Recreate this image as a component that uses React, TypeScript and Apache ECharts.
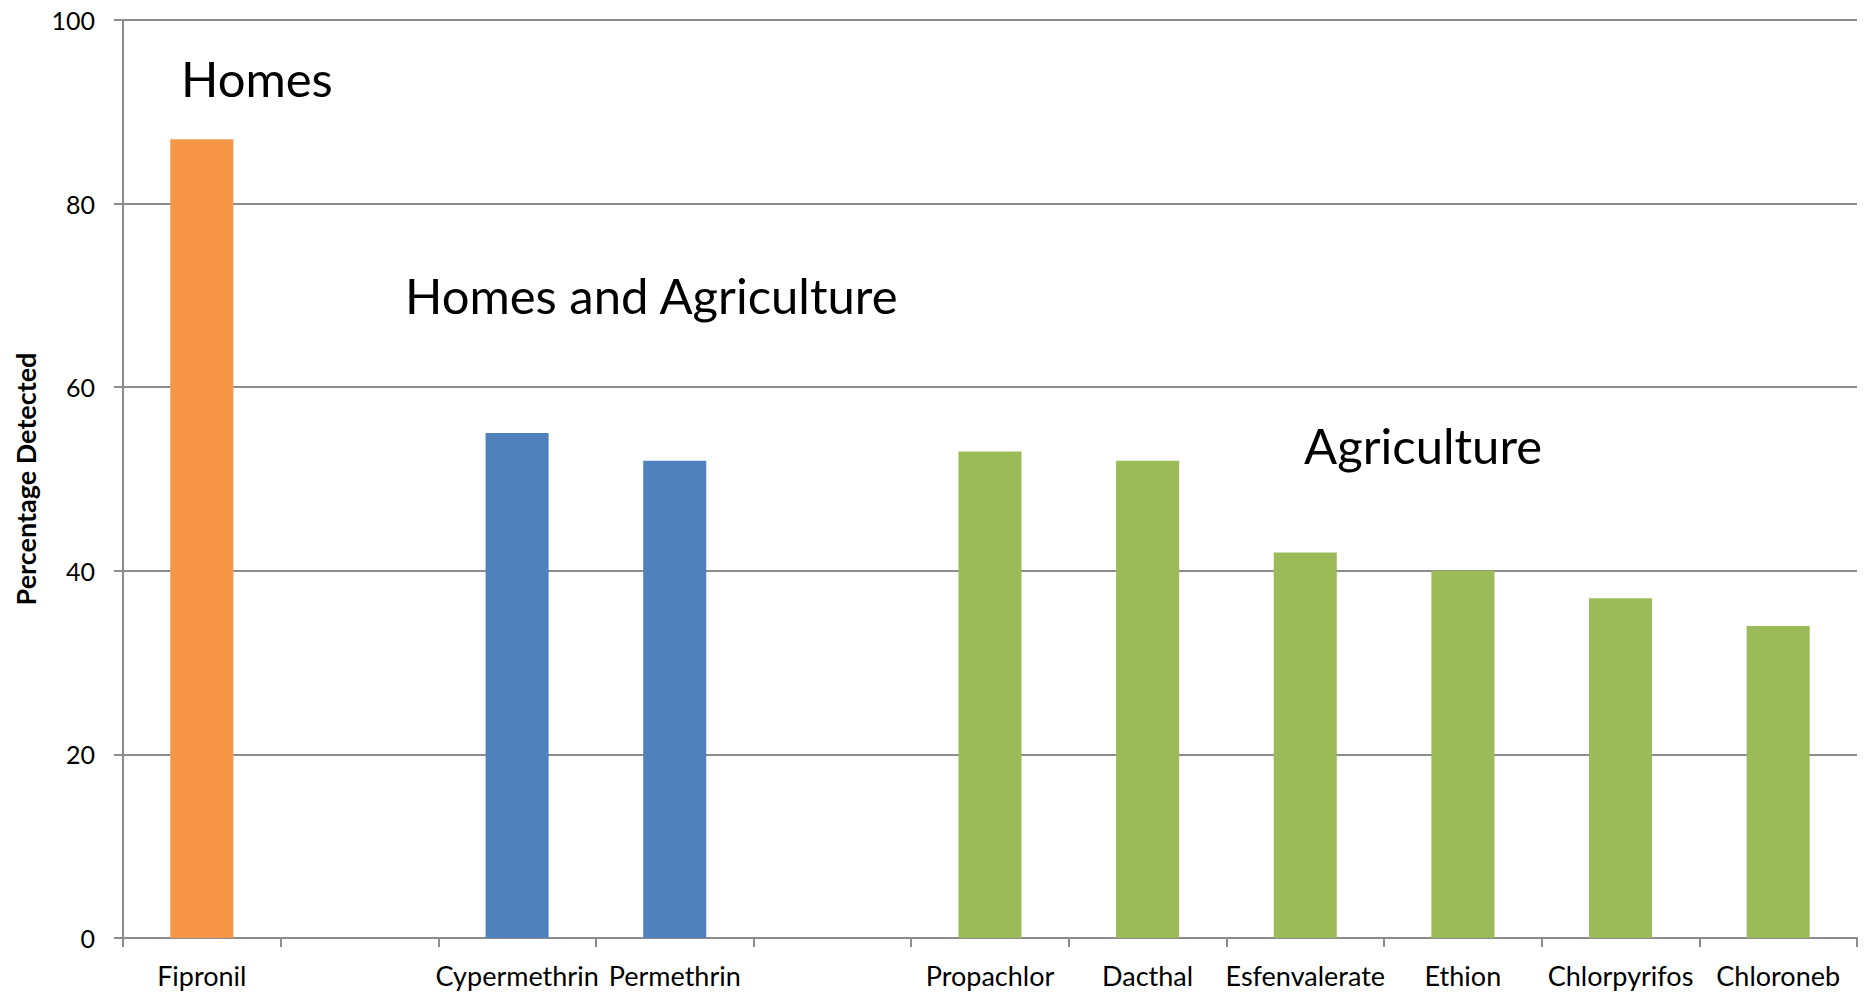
import React, { useEffect, useRef } from "react";
import * as echarts from "echarts";

// Pesticides detected, grouped by where they are used
const categories = [
  "Fipronil",
  " ",
  "Cypermethrin",
  "Permethrin",
  "  ",
  "Propachlor",
  "Dacthal",
  "Esfenvalerate",
  "Ethion",
  "Chlorpyrifos",
  "Chloroneb",
];
const percentDetected: (number | null)[] = [87, null, 55, 52, null, 53, 52, 42, 40, 37, 34];
const useGroup: (string | null)[] = [
  "homes",
  null,
  "both",
  "both",
  null,
  "agriculture",
  "agriculture",
  "agriculture",
  "agriculture",
  "agriculture",
  "agriculture",
];
const yTicks = [0, 20, 40, 60, 80, 100];

const groupColors: Record<string, string> = {
  homes: "#F79646",
  both: "#4F81BD",
  agriculture: "#9BBB59",
};

const FONT = "Lato, 'Noto Sans', sans-serif";

export default function App() {
  const ref = useRef<HTMLDivElement>(null);

  useEffect(() => {
    if (!ref.current) return;
    const chart = echarts.init(ref.current, null, { renderer: "svg" });
    const gray = "#8C8C8C";

    chart.setOption({
      animation: false,
      backgroundColor: "#ffffff",
      grid: { left: 123, right: 9, top: 20, bottom: 54, containLabel: false },
      xAxis: {
        type: "category",
        data: categories,
        boundaryGap: true,
        axisLine: { show: true, lineStyle: { color: gray, width: 2 } },
        axisTick: { show: true, length: 9, lineStyle: { color: gray, width: 2 } },
        axisLabel: {
          color: "#000",
          fontFamily: FONT,
          fontSize: 27,
          margin: 24,
          interval: 0,
        },
        splitLine: { show: false },
      },
      yAxis: {
        type: "value",
        min: yTicks[0],
        max: yTicks[yTicks.length - 1],
        interval: 20,
        name: "Percentage Detected",
        nameLocation: "middle",
        nameGap: 84,
        nameTextStyle: {
          color: "#000",
          fontFamily: FONT,
          fontSize: 27,
          fontWeight: "bold",
        },
        axisLine: { show: true, lineStyle: { color: gray, width: 2 } },
        axisTick: { show: true, length: 9, lineStyle: { color: gray, width: 2 } },
        axisLabel: {
          color: "#000",
          fontFamily: FONT,
          fontSize: 25,
          margin: 28,
        },
        splitLine: { show: true, lineStyle: { color: gray, width: 2 } },
      },
      series: [
        {
          type: "bar",
          barWidth: "40%",
          data: percentDetected.map((v, i) => ({
            value: v,
            itemStyle: { color: useGroup[i] ? groupColors[useGroup[i] as string] : "transparent" },
          })),
        },
      ],
      graphic: [
        {
          type: "text",
          left: 181,
          top: 53,
          style: { text: "Homes", font: `49px ${FONT}`, fill: "#000" },
        },
        {
          type: "text",
          left: 405,
          top: 270,
          style: { text: "Homes and Agriculture", font: `49px ${FONT}`, fill: "#000" },
        },
        {
          type: "text",
          left: 1304,
          top: 420,
          style: { text: "Agriculture", font: `49px ${FONT}`, fill: "#000" },
        },
      ],
    });

    return () => chart.dispose();
  }, []);

  return (
    <div
      ref={ref}
      style={{ position: "fixed", left: 0, top: 0, width: 1866, height: 992, background: "#fff" }}
    />
  );
}
